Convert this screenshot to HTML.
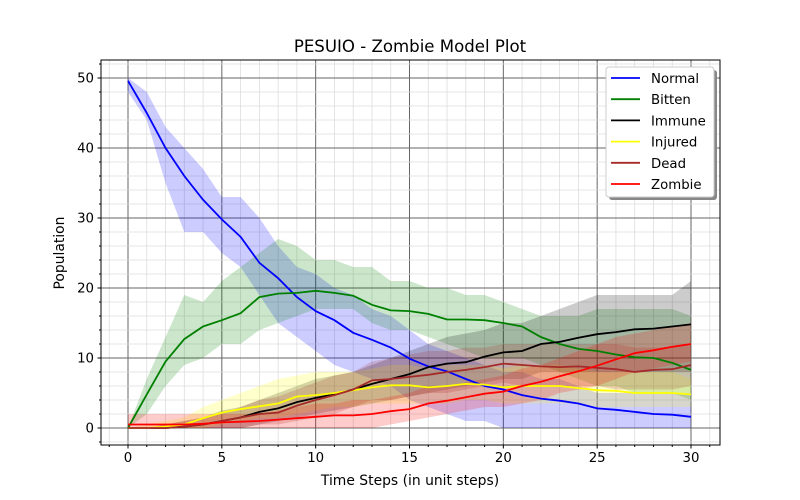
<!DOCTYPE html>
<html><head><meta charset="utf-8"><style>
body{margin:0;background:#fff}
svg{display:block;font-family:"DejaVu Sans","Liberation Sans",sans-serif}
</style></head><body>
<svg id="chart" width="800" height="500" viewBox="0 0 800 500"></svg>
<script>
const steps=[...Array(31).keys()];
const seriesNames=["Normal","Bitten","Immune","Injured","Dead","Zombie"];
const seriesColors=["#0000ff","#008000","#000000","#ffff00","#a52a2a","#ff0000"];
const normal=[49.6,45,40,36,32.6,29.8,27.3,23.6,21.4,18.7,16.7,15.4,13.6,12.6,11.5,9.9,8.8,8.1,7,6,5.5,4.7,4.2,3.9,3.5,2.8,2.6,2.3,2,1.9,1.6];
const normalLo=[48,44,35,28,28,25,23,19,15,13,11,9,8,7,6,4,3,2,1,1,0,0,0,0,0,0,0,0,0,0,0];
const normalHi=[50,48,43,40,37,33,33,30,26,23,22,20,19,17,16,14,12,11,10,9,8,8,7,7,6,5,5,5,5,5,5];
const bitten=[0,4.8,9.5,12.7,14.5,15.4,16.4,18.7,19.2,19.3,19.6,19.3,18.9,17.6,16.8,16.7,16.3,15.5,15.5,15.4,15,14.5,13,12,11.3,11,10.5,10.1,10,9.3,8.3];
const bittenLo=[0,2,6,9,10,12,12,14,15,16,17,17,17,15,14,14,13,12,11,10,10,10,9,8,7,6,6,5,5,5,4];
const bittenHi=[0,7,13,19,18,21,23,25,27,26,24,24,23,23,21,21,20,20,19,19,18,17,16,16,16,17,17,17,17,17,16];
const immune=[0,0,0,0.2,0.5,1,1.5,2.3,2.8,3.7,4.3,4.8,5.5,6.3,7,7.7,8.7,9.2,9.4,10.2,10.8,11,12,12.3,12.9,13.4,13.7,14.1,14.2,14.5,14.8];
const immuneLo=[0,0,0,0,0,0,0,0.5,1,1.5,2,2.5,3,3.5,4,4.5,5,5.5,6,6.5,7,7,8,8,8,8,8,8,8,8,8];
const immuneHi=[0,0,0.5,1,1.5,2.5,3,4,5,6,7,7.5,8,9,10,11,12,13,13.5,14,15,15,16,17,18,19,19,19,19,19,21];
const injured=[0,0,0.2,0.5,1.4,2.2,2.7,3.1,3.5,4.5,4.7,5,5.4,5.8,6.1,6.1,5.8,6,6.3,6.2,5.8,6,6,6,5.7,5.4,5.3,5,5,5,4.8];
const injuredLo=[0,0,0,0,0,0.5,1,1.5,1.5,2,2.5,3,3,3.5,3.5,3.5,3.5,3.5,4,4,3.5,3.5,3.5,3.5,3.5,3,3,3,3,3,3];
const injuredHi=[0,0.5,1,1.5,3,4,5,6,7,7.5,8,8,8,8.5,9,9,8.5,9,9,9,8.5,9,9,9,8.5,8,8,8,8,8,7];
const dead=[0,0,0,0.2,0.5,1,1.5,2,2.2,3.2,4,4.7,5.5,6.8,7,7.3,7.6,8,8.3,8.7,9.2,9,8.8,8.7,8.8,8.6,8.4,8,8.3,8.4,9];
const deadLo=[0,0,0,0,0,0,0,0.5,0.5,1,1.5,2,3,4,4,4.5,5,5,5.5,6,6.5,6,6,6,6,6,5.5,5.5,5.5,5.5,6];
const deadHi=[0,0,0.5,1,1.5,2,3,4,4.5,5.5,6.5,7.5,8,9.5,10,10.5,11,11,11.5,11.5,12,12,12,12,12,12,12,11.5,11.5,11.5,12];
const zombie=[0.5,0.5,0.5,0.5,0.6,0.8,0.9,1,1.2,1.4,1.6,1.8,1.8,2,2.4,2.7,3.5,3.9,4.4,4.9,5.2,6,6.6,7.4,8.1,8.9,9.8,10.7,11.1,11.6,12];
const zombieLo=[0,0,0,0,0,0,0,0,0,0,0,0,0,0,0.5,1,1.5,2,2.5,3,3,3.5,4,5,5.5,6,7,8,8.5,9,9.5];
const zombieHi=[2,2,2,2,2,2,2,2,2.5,3,3.5,3.5,4,4,4.5,5,6,6,6.5,7,7.5,8.5,9,10,11,12,13,13.5,14,14.5,15];
const xTicks=[0,5,10,15,20,25,30];
const yTicks=[0,10,20,30,40,50];

const means=[normal,bitten,immune,injured,dead,zombie];
const los=[normalLo,bittenLo,immuneLo,injuredLo,deadLo,zombieLo];
const his=[normalHi,bittenHi,immuneHi,injuredHi,deadHi,zombieHi];

const NS="http://www.w3.org/2000/svg";
const svg=document.getElementById("chart");
const L=101,R=720,T=60,B=445;
const xs=v=>128+v*(691-128)/30;
const ys=v=>428-v*(350/50);
function mk(tag,attrs,parent){const e=document.createElementNS(NS,tag);for(const k in attrs)e.setAttribute(k,attrs[k]);(parent||svg).appendChild(e);return e;}

const grid=mk("g",{});


for(let v=-1;v<=31;v++){const x=xs(v);if(x<L||x>R)continue;mk("line",{x1:x,x2:x,y1:T,y2:B,stroke:v%5===0?"#666":"#ddd","stroke-width":v%5===0?1:0.8},grid);}
for(let v=-2;v<=54;v+=2){const y=ys(v);if(y<T||y>B)continue;mk("line",{x1:L,x2:R,y1:y,y2:y,stroke:v%10===0?"#666":"#ddd","stroke-width":v%10===0?1:0.8},grid);}

means.forEach((m,i)=>{
  let d="M"+steps.map(s=>xs(s)+","+ys(his[i][s])).join("L");
  d+="L"+steps.slice().reverse().map(s=>xs(s)+","+ys(los[i][s])).join("L")+"Z";
  const p=mk("path",{d:d,fill:seriesColors[i],"fill-opacity":0.2,stroke:"none"});
  
  
});
means.forEach((m,i)=>{
  const p=mk("polyline",{points:steps.map(s=>xs(s)+","+ys(m[s])).join(" "),fill:"none",stroke:seriesColors[i],"stroke-width":1.8});
  
  
});
const fr=mk("rect",{x:L,y:T,width:R-L,height:B-T,fill:"none",stroke:"#000","stroke-width":1});


for(let v=-1;v<=31;v++){const x=xs(v);if(x<L||x>R)continue;mk("line",{x1:x,x2:x,y1:B,y2:B+(v%5===0?3.5:2),stroke:"#000"});}
for(let v=-2;v<=54;v+=2){const y=ys(v);if(y<T||y>B)continue;mk("line",{x1:L,x2:L-(v%10===0?3.5:2),y1:y,y2:y,stroke:"#000"});}
xTicks.forEach(v=>{const t=mk("text",{x:xs(v),y:B+17,"font-size":13.3,"text-anchor":"middle"});t.textContent=v;

});
yTicks.forEach(v=>{const t=mk("text",{x:L-7,y:ys(v)+4.5,"font-size":13.3,"text-anchor":"end"});t.textContent=v;

});
let t=mk("text",{x:410,y:52,"font-size":16.6,"text-anchor":"middle"});t.textContent="PESUIO - Zombie Model Plot";


t=mk("text",{x:410,y:485,"font-size":13.9,"text-anchor":"middle"});t.textContent="Time Steps (in unit steps)";


t=mk("text",{x:64,y:253,"font-size":13.9,"text-anchor":"middle",transform:"rotate(-90 64 253)"});t.textContent="Population";


const lg=mk("g",{});


mk("rect",{x:609,y:70,width:108,height:130,rx:3,fill:"#888"},lg);
mk("rect",{x:606,y:67,width:108,height:130,rx:3,fill:"#fff",stroke:"#ccc"},lg);
seriesNames.forEach((n,i)=>{
  const y=78+i*21.2;
  const g=mk("g",{},lg);
  
  
  mk("line",{x1:611,x2:640,y1:y,y2:y,stroke:seriesColors[i],"stroke-width":1.8},g);
  const tx=mk("text",{x:651,y:y+5,"font-size":13.3},g);tx.textContent=n;
});
</script>
</body></html>
